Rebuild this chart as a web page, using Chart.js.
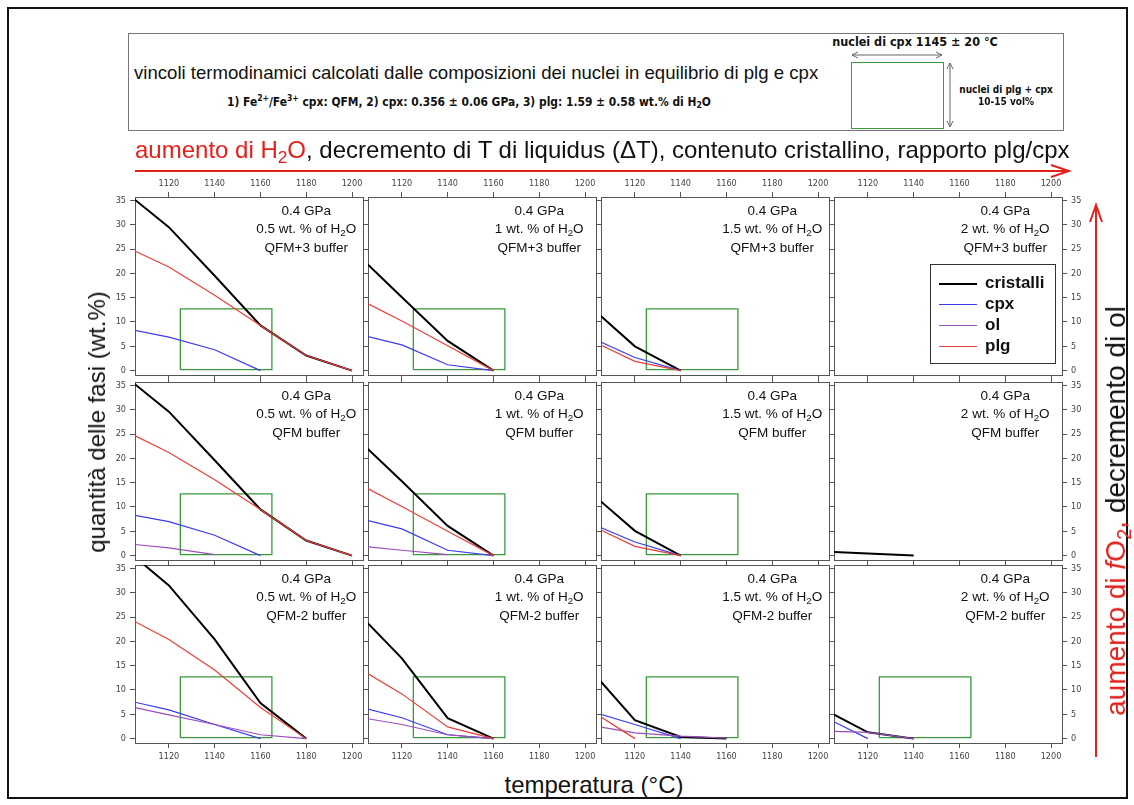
<!DOCTYPE html>
<html>
<head>
<meta charset="utf-8">
<script src="https://cdn.jsdelivr.net/npm/chart.js@4.4.0/dist/chart.umd.min.js"></script>
<style>
    body { margin: 0; background: #fff; font-family: "Liberation Sans", Arial, sans-serif; color: #111; }
    #page { position: relative; width: 1134px; height: 805px; overflow: hidden; background: #fff; }
    #page canvas { position: absolute; }
    .txt { position: absolute; white-space: nowrap; line-height: 1; }
    .narrow { font-family: "Liberation Sans Narrow", "DejaVu Sans Condensed", "Liberation Sans", sans-serif; }
    .red { color: #e3211c; }
    sub.s { font-size: 0.72em; vertical-align: -0.3em; line-height: 0; }
    sup.s { font-size: 0.72em; vertical-align: 0.45em; line-height: 0; }
    #frame { position: absolute; left: 7px; top: 7px; width: 1117px; height: 788px; border: 2px solid #111; }
    #headerBox { position: absolute; left: 128px; top: 33px; width: 934px; height: 96px; border: 1px solid #777; }
    #greenSquare { position: absolute; left: 851px; top: 62px; width: 91px; height: 65px; border: 1.5px solid #3a9a3a; }
    #legend { position: absolute; left: 930px; top: 264px; width: 124px; height: 98px; border: 1.5px solid #333; background: #fff; }
    .legRow { position: absolute; left: 8px; height: 20px; }
    .legLine { position: absolute; left: 0; top: 10px; width: 38px; }
    .legLabel { position: absolute; left: 46px; top: 1px; font-weight: bold; font-size: 17px; line-height: 1; }
    svg { position: absolute; left: 0; top: 0; }
</style>
</head>
<body>
<div id="page">
    <div id="frame"></div>
    <div id="headerBox"></div>
    <div id="greenSquare"></div>
    <svg width="1134" height="805">
        <g stroke="#666" stroke-width="1" fill="none">
            <line x1="852" y1="55" x2="942" y2="55"/>
            <polyline points="858,52 852,55 858,58"/>
            <polyline points="936,52 942,55 936,58"/>
            <line x1="950" y1="63" x2="950" y2="127"/>
            <polyline points="947,69 950,63 953,69"/>
            <polyline points="947,121 950,127 953,121"/>
        </g>
        <g stroke="#e3211c" stroke-width="2" fill="none">
            <line x1="135" y1="171" x2="1068" y2="171"/>
            <polyline points="1051,165 1069,171 1051,177"/>
            <line x1="1096" y1="757" x2="1096" y2="206"/>
            <polyline points="1090,222 1096,205 1102,222"/>
        </g>
    </svg>
</div>

<script>
// temperature steps (°C) shared by every series; first step is the left frame edge
const temps = [1105, 1120, 1140, 1160, 1180, 1200];
const xTicks = [1120, 1140, 1160, 1180, 1200];
const yTicks = [0, 5, 10, 15, 20, 25, 30, 35];
const waterContents = ['0.5', '1', '1.5', '2'];
const buffers = ['QFM+3', 'QFM', 'QFM-2'];
const pressureLabel = '0.4 GPa';
const phases = ['cristalli', 'cpx', 'ol', 'plg'];

// wt.% of each phase, one list per H2O column (0.5, 1, 1.5, 2 wt.%)
const cristalliQFMp3 = [[35.2, 29.5, 19.5, 9.3, 3.1, 0], [21.9, 15.1, 6.1, 0], [11.3, 5.0, 0], []];
const cpxQFMp3 = [[8.3, 6.9, 4.3, 0], [7.0, 5.3, 1.2, 0], [5.9, 2.7, 0], []];
const olQFMp3 = [[], [], [], []];
const plgQFMp3 = [[24.6, 21.3, 15.5, 9.3, 3.1, 0], [13.8, 10.2, 5.1, 0], [5.3, 1.9, 0], []];

const cristalliQFM = [[35.3, 29.6, 19.6, 9.5, 3.1, 0], [22.0, 15.3, 6.1, 0], [11.2, 5.1, 0], [0.75, 0.45, 0]];
const cpxQFM = [[8.3, 7.0, 4.2, 0], [7.2, 5.5, 1.1, 0], [5.8, 2.8, 0], []];
const olQFM = [[2.3, 1.6, 0.2], [1.8, 1.1, 0.2], [], []];
const plgQFM = [[24.7, 21.2, 15.6, 9.5, 3.1, 0], [13.8, 10.1, 5.0, 0], [5.3, 1.9, 0], []];

const cristalliQFMm2 = [[37.4, 31.5, 20.4, 7.3, 0], [23.8, 16.5, 4.2, 0], [11.8, 3.8, 0.35, 0], [5.0, 1.3, 0]];
const cpxQFMm2 = [[7.5, 5.9, 2.9, 0], [6.1, 4.3, 0.8, 0], [5.0, 2.9, 0], [3.5, 0]];
const olQFMm2 = [[6.4, 4.9, 2.9, 0.8, 0], [4.1, 2.9, 0.8, 0], [2.4, 1.2, 0.5, 0.1], [1.5, 1.3, 0]];
const plgQFMm2 = [[24.1, 20.4, 14.1, 6.4, 0], [13.4, 9.2, 2.4, 0], [4.5, 0], []];

// cpx nuclei window: 1145 ± 20 °C, 10-15 vol% crystals
const boxTemp = [1125, 1165];
const boxWt = [0.2, 12.7];
const boxShown = [[true, true, true, false], [true, true, true, false], [true, true, true, true]];

// layout
const colLeft = [135, 368, 601, 834];
const rowTop = [197, 382, 565];
const panelW = 228, panelH = 178;
const margin = { l: 40, r: 40, t: 25, b: 25 };
const tempRange = [1105.2, 1204.8];
const wtRange = [-0.9, 35.7];
const frameColor = '#555';
const phaseStyle = {
    cristalli: { color: '#000000', width: 2, order: 4 },
    cpx: { color: '#3b3bf0', width: 1.2, order: 3 },
    ol: { color: '#9b4dbb', width: 1.2, order: 2 },
    plg: { color: '#e8403a', width: 1.2, order: 1 }
};

const rowData = [
    { cristalli: cristalliQFMp3, cpx: cpxQFMp3, ol: olQFMp3, plg: plgQFMp3 },
    { cristalli: cristalliQFM, cpx: cpxQFM, ol: olQFM, plg: plgQFM },
    { cristalli: cristalliQFMm2, cpx: cpxQFMm2, ol: olQFMm2, plg: plgQFMm2 }
];

Chart.defaults.font.family = '"Liberation Sans Narrow", "DejaVu Sans Condensed", "Liberation Sans", sans-serif';
Chart.defaults.animation = false;

const page = document.getElementById('page');

function addText(html, x, y, opts) {
    const el = document.createElement('div');
    el.className = 'txt' + (opts.cls ? ' ' + opts.cls : '');
    el.innerHTML = html;
    el.style.left = x + 'px';
    el.style.top = y + 'px';
    el.style.fontSize = (opts.size || 14) + 'px';
    if (opts.bold) el.style.fontWeight = 'bold';
    const tx = opts.anchor === 'left' ? '0' : '-50%';
    el.style.transform = `translate(${tx}, -50%)` + (opts.rotate ? ` rotate(${opts.rotate}deg)` : '') + (opts.sx ? ` scaleX(${opts.sx})` : '');
    if (opts.anchor === 'left') el.style.transformOrigin = 'left center';
    page.appendChild(el);
    return el;
}

function makeAxis(position, range, tickValues, showLabels) {
    const horizontal = position === 'top' || position === 'bottom';
    return {
        type: 'linear',
        position: position,
        min: range[0],
        max: range[1],
        afterBuildTicks: s => { s.ticks = tickValues.map(v => ({ value: v })); },
        afterFit: s => {
            if (horizontal) s.height = position === 'top' ? margin.t : margin.b;
            else s.width = position === 'left' ? margin.l : margin.r;
        },
        grid: { drawOnChartArea: false, drawTicks: true, tickLength: 5, color: frameColor },
        border: { display: true, color: frameColor, width: 1 },
        ticks: {
            display: showLabels,
            color: '#444',
            font: { size: 9 },
            padding: horizontal ? 3 : 4,
            maxRotation: 0,
            autoSkip: false,
            callback: v => String(v)
        }
    };
}

function seriesPoints(values) {
    return values.map((v, i) => ({ x: temps[i], y: v }));
}

function boxPoints() {
    return [
        { x: boxTemp[0], y: boxWt[0] }, { x: boxTemp[1], y: boxWt[0] },
        { x: boxTemp[1], y: boxWt[1] }, { x: boxTemp[0], y: boxWt[1] },
        { x: boxTemp[0], y: boxWt[0] }
    ];
}

for (let r = 0; r < 3; r++) {
    for (let c = 0; c < 4; c++) {
        const canvas = document.createElement('canvas');
        canvas.width = panelW + margin.l + margin.r;
        canvas.height = panelH + margin.t + margin.b;
        canvas.style.left = (colLeft[c] - margin.l) + 'px';
        canvas.style.top = (rowTop[r] - margin.t) + 'px';
        page.appendChild(canvas);

        const datasets = [];
        phases.forEach(p => {
            const vals = rowData[r][p][c];
            if (!vals.length) return;
            datasets.push({
                label: p,
                data: seriesPoints(vals),
                borderColor: phaseStyle[p].color,
                borderWidth: phaseStyle[p].width,
                order: phaseStyle[p].order,
                pointRadius: 0,
                tension: 0,
                fill: false
            });
        });
        if (boxShown[r][c]) {
            datasets.push({
                label: 'nuclei',
                data: boxPoints(),
                borderColor: '#3a9a3a',
                borderWidth: 1.3,
                order: 5,
                pointRadius: 0,
                tension: 0,
                fill: false
            });
        }

        const chart = new Chart(canvas, {
            type: 'line',
            data: { datasets: datasets },
            options: {
                responsive: false,
                animation: false,
                layout: { padding: 0, autoPadding: false },
                plugins: { legend: { display: false }, tooltip: { enabled: false } },
                scales: {
                    x: makeAxis('bottom', tempRange, xTicks, r === 2),
                    x2: makeAxis('top', tempRange, xTicks, r === 0),
                    y: makeAxis('left', wtRange, yTicks, c === 0),
                    y2: makeAxis('right', wtRange, yTicks, c === 3)
                }
            }
        });

        // panel annotation centred at 1180 °C
        const ox = colLeft[c] - margin.l, oy = rowTop[r] - margin.t;
        const tx = ox + chart.scales.x.getPixelForValue(1180);
        addText(pressureLabel, tx, oy + chart.scales.y.getPixelForValue(32.9), { size: 13.5 });
        addText(`${waterContents[c]} wt. % of H<sub class="s">2</sub>O`, tx, oy + chart.scales.y.getPixelForValue(29.1), { size: 13.5 });
        addText(`${buffers[r]} buffer`, tx, oy + chart.scales.y.getPixelForValue(25.2), { size: 13.5 });
    }
}

// legend in the QFM+3 / 2 wt.% panel
const legend = document.createElement('div');
legend.id = 'legend';
phases.forEach((p, i) => {
    const row = document.createElement('div');
    row.className = 'legRow';
    row.style.top = (8 + i * 21) + 'px';
    row.innerHTML = `<div class="legLine" style="border-top:${phaseStyle[p].width + 0.5}px solid ${phaseStyle[p].color}"></div><div class="legLabel">${p}</div>`;
    legend.appendChild(row);
});
page.appendChild(legend);

// header
addText('vincoli termodinamici calcolati dalle composizioni dei nuclei in equilibrio di plg e cpx', 134, 73, { size: 18.6, anchor: 'left' });
addText('1) Fe<sup class="s">2+</sup>/Fe<sup class="s">3+</sup> cpx: QFM, 2) cpx: 0.356 ± 0.06 GPa, 3) plg: 1.59 ± 0.58 wt.% di H<sub class="s">2</sub>O', 227, 101, { size: 13, bold: true, anchor: 'left', cls: 'narrow', sx: 0.915 });
addText('nuclei di cpx 1145 ± 20 °C', 915, 42, { size: 12.5, bold: true, cls: 'narrow' });
addText('nuclei di plg + cpx', 1006, 90, { size: 10, bold: true, cls: 'narrow' });
addText('10-15 vol%', 1006, 102, { size: 10, bold: true, cls: 'narrow' });

// direction labels
addText('<span class="red">aumento di H<sub class="s">2</sub>O</span>, decremento di T di liquidus (ΔT), contenuto cristallino, rapporto plg/cpx', 135, 150, { size: 24, anchor: 'left' });
addText('<span class="red">aumento di <i>f</i>O<sub class="s">2</sub>,</span> decremento di ol', 1116, 511, { size: 28, rotate: -90 });
addText('quantità delle fasi (wt.%)', 97, 422, { size: 24, rotate: -90 });
addText('temperatura (°C)', 594, 785, { size: 24 });
</script>
</body>
</html>
